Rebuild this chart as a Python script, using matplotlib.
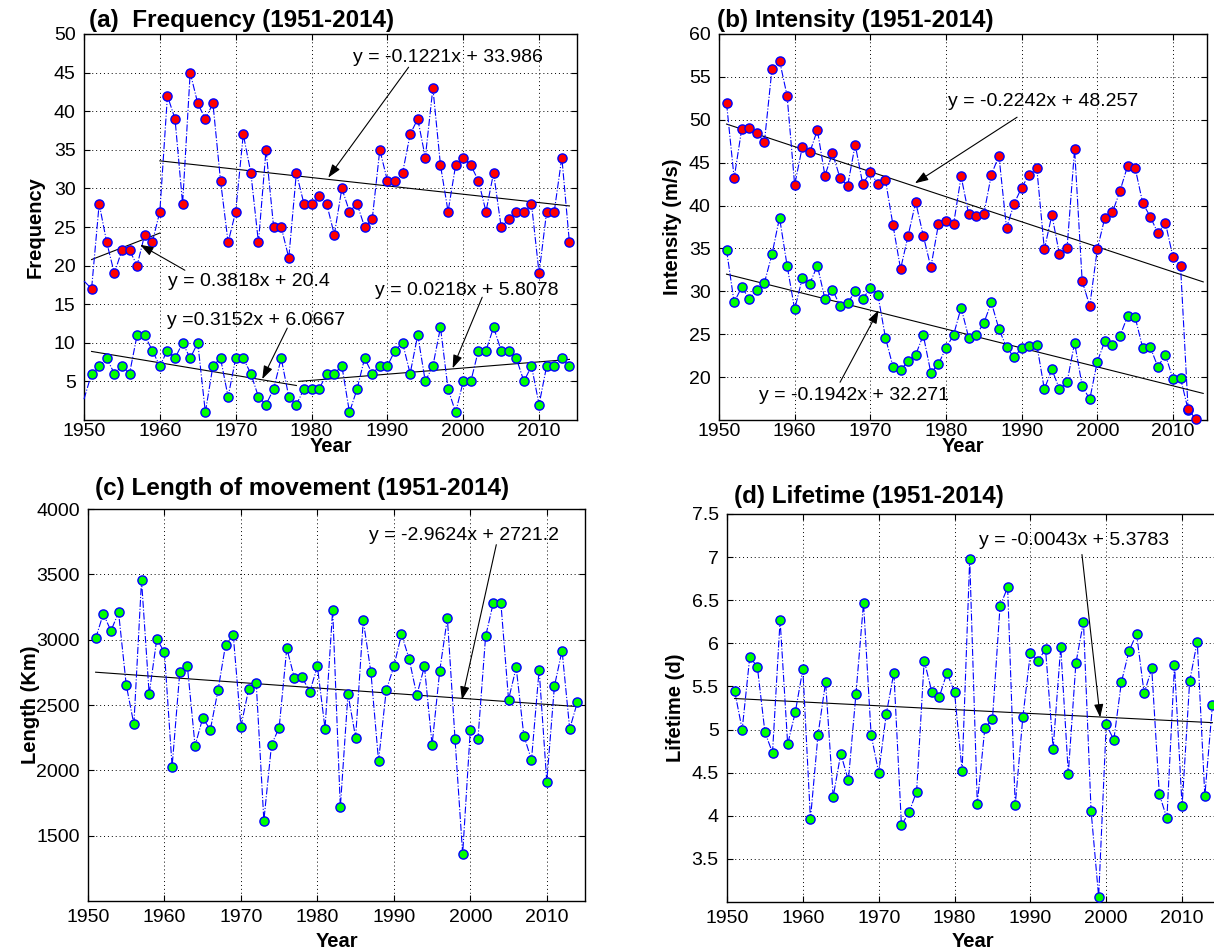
import matplotlib
matplotlib.use("Agg")
import matplotlib.pyplot as plt
from matplotlib.ticker import FuncFormatter

plt.rcParams['font.family'] = ['Liberation Sans', 'DejaVu Sans']

# ---- data ----
years = list(range(1951, 2015))

# (a) frequency; the line starts at 1950 (no marker drawn there)
freq_years = [1950] + years
freq_all = [18, 17, 28, 23, 19, 22, 22, 20, 24, 23, 27,
            42, 39, 28, 45, 41, 39, 41, 31, 23, 27,
            37, 32, 23, 35, 25, 25, 21, 32, 28, 28,
            29, 28, 24, 30, 27, 28, 25, 26, 35, 31,
            31, 32, 37, 39, 34, 43, 33, 27, 33, 34,
            33, 31, 27, 32, 25, 26, 27, 27, 28, 19,
            27, 27, 34, 23]
freq_strong = [2.7, 6, 7, 8, 6, 7, 6, 11, 11, 9, 7,
               9, 8, 10, 8, 10, 1, 7, 8, 3, 8,
               8, 6, 3, 2, 4, 8, 3, 2, 4, 4,
               4, 6, 6, 7, 1, 4, 8, 6, 7, 7,
               9, 10, 6, 11, 5, 7, 12, 4, 1, 5,
               5, 9, 9, 12, 9, 9, 8, 5, 7, 2,
               7, 7, 8, 7]

# (b) intensity
int_years_red = list(range(1951, 2014))
int_red = [51.9, 43.2, 48.9, 49.0, 48.5, 47.4, 55.9, 56.9, 52.8, 42.4,
           46.8, 46.2, 48.8, 43.5, 46.1, 43.2, 42.3, 47.1, 42.5, 43.9,
           42.5, 43.0, 37.7, 32.6, 36.5, 40.4, 36.5, 32.8, 37.8, 38.2,
           37.8, 43.4, 39.0, 38.8, 39.0, 43.6, 45.8, 37.4, 40.2, 42.1,
           43.6, 44.4, 34.9, 38.9, 34.3, 35.0, 46.6, 31.2, 28.3, 34.9,
           38.6, 39.2, 41.7, 44.6, 44.4, 40.3, 38.7, 36.8, 38.0, 34.0,
           33.0, 16.3, 15.1]
int_years_green = list(range(1951, 2013))
int_green = [34.8, 28.7, 30.5, 29.1, 30.2, 31.0, 34.3, 38.6, 33.0, 27.9,
             31.5, 30.9, 33.0, 29.1, 30.2, 28.3, 28.6, 30.0, 29.1, 30.4,
             29.6, 24.6, 21.2, 20.8, 21.9, 22.6, 24.9, 20.5, 21.5, 23.4,
             24.9, 28.1, 24.6, 24.9, 26.3, 28.7, 25.6, 23.5, 22.3, 23.4,
             23.6, 23.8, 18.6, 20.9, 18.6, 19.4, 24.0, 19.0, 17.4, 21.8,
             24.2, 23.8, 24.8, 27.1, 27.0, 23.4, 23.5, 21.2, 22.6, 19.8,
             19.9, 16.2]

# (c) length of movement (km)
length = [3010, 3198, 3068, 3208, 2654, 2353, 3454, 2583, 3007, 2902,
          2029, 2749, 2795, 2189, 2399, 2312, 2611, 2963, 3032, 2335,
          2619, 2667, 1615, 2195, 2327, 2935, 2705, 2713, 2601, 2795,
          2320, 3229, 1717, 2585, 2251, 3147, 2751, 2072, 2611, 2795,
          3042, 2853, 2575, 2795, 2195, 2762, 3165, 2241, 1360, 2310,
          2241, 3025, 3280, 3280, 2542, 2787, 2266, 2080, 2769, 1914,
          2644, 2917, 2317, 2521]

# (d) lifetime (days)
lifetime = [5.45, 5.00, 5.84, 5.73, 4.97, 4.73, 6.27, 4.83, 5.20, 5.70,
            3.96, 4.94, 5.55, 4.22, 4.72, 4.41, 5.41, 6.47, 4.94, 4.50,
            5.18, 5.66, 3.89, 4.04, 4.28, 5.80, 5.44, 5.38, 5.66, 5.43,
            4.52, 6.98, 4.14, 5.02, 5.12, 6.43, 6.65, 4.12, 5.14, 5.89,
            5.80, 5.93, 4.78, 5.96, 4.49, 5.77, 6.25, 4.06, 3.06, 5.06,
            4.88, 5.55, 5.91, 6.11, 5.42, 5.71, 4.25, 3.97, 5.75, 4.11,
            5.56, 6.02, 4.23, 5.28]

# trend lines (end points as drawn)
trend_a_red1_x = list(range(1951, 1961))
trend_a_red1_y = [0.3818 * i + 20.4 for i in range(1, 11)]
trend_a_red2 = ([1960, 2014], [33.57, 27.73])
trend_a_grn1 = ([1951, 1978], [8.88, 4.47])
trend_a_grn2 = ([1978.3, 2014], [5.0, 7.85])
trend_b_red = ([1951, 2014], [49.5, 31.1])
trend_b_grn = ([1951, 2014], [32.0, 18.1])
trend_c = ([1951, 2014], [2751, 2488])
trend_d = ([1951, 2014], [5.36, 5.08])

# ---- figure ----
W, H = 1214, 951
fig = plt.figure(figsize=(W / 100, H / 100), dpi=100)


def add_axes_px(left, top, right, bottom):
    return fig.add_axes([left / W, 1 - bottom / H, (right - left) / W, (bottom - top) / H])


def style(ax, xlim, ylim, yticks, xpad):
    ax.set_xlim(xlim)
    ax.set_ylim(ylim)
    ax.set_xticks(range(1950, 2011, 10))
    ax.set_yticks(yticks)
    ax.yaxis.set_major_formatter(FuncFormatter(lambda v, p: f"{v:g}"))
    ax.grid(True, linestyle=(0, (1, 3)), color='k', lw=0.7)
    ax.tick_params(axis='x', direction='in', top=True, length=4, labelsize=14, pad=xpad)
    ax.tick_params(axis='y', direction='in', right=True, length=4, labelsize=14, pad=6)
    for s in ax.spines.values():
        s.set_linewidth(1.0)
    ax.set_axisbelow(True)


def series(ax, x, y, face, markevery=None):
    ax.plot(x, y, color='#0000ff', ls='-.', lw=0.8, marker='o', ms=6.6,
            mfc=face, mec='#0000ff', mew=1.0, markevery=markevery,
            clip_on=False, zorder=3)


def trend(ax, x, y):
    ax.plot(x, y, color='k', lw=0.8, zorder=2)


def eq_label(ax, text, text_xy, tail, head):
    ax.text(text_xy[0], text_xy[1], text, ha='center', va='center', fontsize=14, zorder=5)
    ax.annotate('', xy=head, xytext=tail,
                arrowprops=dict(arrowstyle='-|>,head_length=0.8,head_width=0.28',
                                color='k', lw=0.8, shrinkA=0, shrinkB=0), zorder=5)


def labels(ax, ylabel, ylab_x, xlab_y):
    ax.set_xlabel('Year', fontsize=14.5, fontweight='bold')
    ax.xaxis.set_label_coords(0.5, xlab_y)
    ax.set_ylabel(ylabel, fontsize=14.5, fontweight='bold')
    ax.yaxis.set_label_coords(ylab_x, 0.5)


def title(x, y, text):
    fig.text(x / W, 1 - y / H, text, ha='left', va='center', fontsize=17.5, fontweight='bold')


# (a)
ax = add_axes_px(84, 34, 577, 420)
style(ax, (1950, 2015), (0, 50), range(5, 51, 5), 2)
series(ax, freq_years, freq_all, '#ff0000', markevery=slice(1, None))
series(ax, freq_years, freq_strong, '#00ff00', markevery=slice(1, None))
trend(ax, trend_a_red1_x, trend_a_red1_y)
trend(ax, *trend_a_red2)
trend(ax, *trend_a_grn1)
trend(ax, *trend_a_grn2)
eq_label(ax, 'y = -0.1221x + 33.986', (1998.0, 47.0), (1992.8, 45.7), (1982.2, 31.4))
eq_label(ax, 'y = 0.3818x + 20.4', (1971.7, 17.9), (1963.3, 19.4), (1957.4, 22.7))
eq_label(ax, 'y =0.3152x + 6.0667', (1972.7, 12.95), (1976.8, 11.9), (1973.5, 5.3))
eq_label(ax, 'y = 0.0218x + 5.8078', (2000.5, 16.8), (2002.5, 15.9), (1998.6, 6.7))
labels(ax, 'Frequency', -0.08, -0.044)
title(89, 20, '(a)  Frequency (1951-2014)')

# (b)
ax = add_axes_px(719, 34, 1207, 420)
style(ax, (1950, 2014.5), (15, 60), range(20, 61, 5), 2)
series(ax, int_years_green, int_green, '#00ff00')
series(ax, int_years_red, int_red, '#ff0000')
trend(ax, *trend_b_red)
trend(ax, *trend_b_grn)
eq_label(ax, 'y = -0.2242x + 48.257', (1992.8, 52.1), (1989.4, 50.3), (1975.9, 42.6))
eq_label(ax, 'y = -0.1942x + 32.271', (1967.8, 17.9), (1966.0, 19.4), (1971.1, 27.8))
labels(ax, 'Intensity (m/s)', -0.075, -0.044)
title(717, 20, '(b) Intensity (1951-2014)')

# (c)
ax = add_axes_px(88, 509, 585, 901)
style(ax, (1950, 2015), (1000, 4000), range(1500, 4001, 500), 6)
series(ax, years, length, '#00ff00')
trend(ax, *trend_c)
eq_label(ax, 'y = -2.9624x + 2721.2', (1999.2, 3796), (2003.4, 3727), (1998.9, 2540))
labels(ax, 'Length (Km)', -0.097, -0.078)
title(95, 488, '(c) Length of movement (1951-2014)')

# (d)
ax = add_axes_px(727, 514, 1220, 902)
style(ax, (1950, 2015), (3, 7.5), [3.5, 4, 4.5, 5, 5.5, 6, 6.5, 7, 7.5], 6)
series(ax, years, lifetime, '#00ff00')
trend(ax, *trend_d)
eq_label(ax, 'y = -0.0043x + 5.3783', (1995.8, 7.19), (1996.8, 7.03), (1999.2, 5.14))
labels(ax, 'Lifetime (d)', -0.085, -0.078)
title(734, 497, '(d) Lifetime (1951-2014)')

fig.savefig('out.png', dpi=100)
